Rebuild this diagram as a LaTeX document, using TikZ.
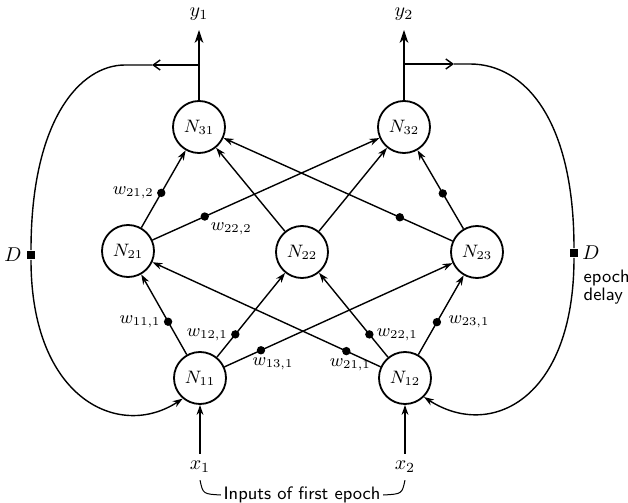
\documentclass[tikz,border=0pt]{standalone}
\usepackage{tikz}
\usetikzlibrary{arrows.meta}

\begin{document}
\begin{tikzpicture}[
		x=0.5pt,y=-0.5pt,
		line width=0.7pt,
		>={Stealth[length=5pt,width=3.4pt,inset=1.6pt]},
		neuron/.style={circle,draw,line width=0.9pt,fill=white,minimum size=26pt,
			inner sep=0pt,font=\small},
		wdot/.style={circle,fill,minimum size=4.2pt,inner sep=0pt},
		wlabel/.style={font=\small,inner sep=1pt},
		delaybox/.style={rectangle,fill,minimum size=4.2pt,inner sep=0pt},
		caption/.style={font=\sffamily\small,inner sep=1pt}
		]
		\useasboundingbox (0,0) rectangle (628,503);

		\node[neuron] (n11) at (200,378) {$N_{11}$};
		\node[neuron] (n12) at (405,378) {$N_{12}$};
		\node[neuron] (n21) at (128,251) {$N_{21}$};
		\node[neuron] (n22) at (302,252) {$N_{22}$};
		\node[neuron] (n23) at (477,252) {$N_{23}$};
		\node[neuron] (n31) at (199,127) {$N_{31}$};
		\node[neuron] (n32) at (404,127) {$N_{32}$};

		\draw[->] (n11) -- node[wdot,pos=0.41,label={[wlabel]left:$w_{11,1}$}] {} (n21);
		\draw[->] (n11) -- node[wdot,pos=0.27,label={[wlabel]left:$w_{12,1}$}] {} (n22);
		\draw[->] (n11) -- node[wdot,pos=0.16,label={[wlabel,xshift=6pt]below:$w_{13,1}$}] {} (n23);
		\draw[->] (n12) -- node[wdot,pos=0.15,label={[wlabel,xshift=2pt]below:$w_{21,1}$}] {} (n21);
		\draw[->] (n12) -- node[wdot,pos=0.27,label={[wlabel]right:$w_{22,1}$}] {} (n22);
		\draw[->] (n12) -- node[wdot,pos=0.41,label={[wlabel,xshift=2pt]right:$w_{23,1}$}] {} (n23);

		\draw[->] (n21) -- node[wdot,pos=0.45,label={[wlabel]left:$w_{21,2}$}] {} (n31);
		\draw[->] (n21) -- node[wdot,pos=0.23,label={[wlabel]below right:$w_{22,2}$}] {} (n32);
		\draw[->] (n22) -- (n31);
		\draw[->] (n22) -- (n32);
		\draw[->] (n23) -- node[wdot,pos=0.23] {} (n31);
		\draw[->] (n23) -- node[wdot,pos=0.45] {} (n32);

		\coordinate (o1) at (199,30);
		\coordinate (o2) at (404,30);
		\node (y1) at (199,14) {$y_1$};
		\node (y2) at (404,14) {$y_2$};
		\draw[-{Stealth[length=6.5pt,width=4.4pt,inset=2pt]}] (n31) -- (o1);
		\draw[-{Stealth[length=6.5pt,width=4.4pt,inset=2pt]}] (n32) -- (o2);

		\coordinate (t1) at (199,65);
		\coordinate (m1) at (152,65);
		\coordinate (c1) at (125,65);
		\coordinate (t2) at (404,64);
		\coordinate (m2) at (454,64);
		\coordinate (c2) at (470,64);
		\node[delaybox] (d1) at (31,255) {};
		\node[delaybox] (d2) at (574,253) {};
		\node (d1label) at (13,255) {$D$};
		\node (d2label) at (591,253) {$D$};
		\node[caption,align=left,anchor=west] (delay) at (581,287) {epoch\\[-2pt]delay};

		\draw[-{Straight Barb[length=3.5pt,width=5pt]}] (t1) -- (m1);
		\draw (m1) -- (c1) .. controls (80,65) and (31,120) .. (d1.north);
		\draw[->] (d1.south) .. controls (31,400) and (120,440) .. (n11.230);
		\draw[-{Straight Barb[length=3.5pt,width=5pt]}] (t2) -- (m2);
		\draw (m2) -- (c2) .. controls (525,64) and (574,120) .. (d2.north);
		\draw[->] (d2.south) .. controls (574,400) and (490,440) .. (n12.-45);

		\node (x1) at (200,467) {$x_1$};
		\node (x2) at (405,467) {$x_2$};
		\draw[->] (x1.north) -- (n11);
		\draw[->] (x2.north) -- (n12);
		\node[caption] (inputs) at (302,495) {Inputs of first epoch};
		\draw[line width=0.5pt] (x1.south) .. controls (203,494) .. (inputs.west);
		\draw[line width=0.5pt] (x2.south) .. controls (402,494) .. (inputs.east);
	\end{tikzpicture}
\end{document}
